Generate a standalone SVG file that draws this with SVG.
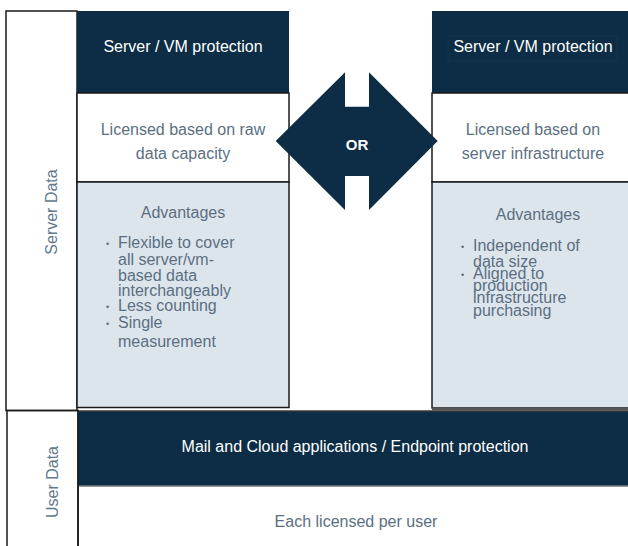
<svg xmlns="http://www.w3.org/2000/svg" width="628" height="546" viewBox="0 0 628 546">
<style>
text{font-family:"Liberation Sans",Arial,sans-serif;font-size:16px}
.hd{fill:#0c2d45}
.wt{fill:#ffffff}
.lb{fill:#dde5ec}
.ln{fill:none;stroke:#1a1a1a;stroke-width:1.5}
.tw{fill:#ffffff;text-anchor:middle}
.ts{fill:#5b6f82;text-anchor:middle}
.tb{fill:#5b6f82}
.bu{fill:#5b6f82;font-size:9px}
.side{fill:#62798e;text-anchor:middle}
</style>
<rect width="628" height="546" fill="#ffffff"/>

<g id="server-data">
<rect x="6" y="11" width="71" height="399.5" class="ln" fill="#ffffff"/>
<text class="side" transform="translate(57,212) rotate(-90)">Server Data</text>
</g>

<g id="user-data">
<rect x="7" y="410.5" width="71" height="140" class="ln" fill="#ffffff"/>
<text class="side" transform="translate(58,482) rotate(-90)">User Data</text>
</g>

<g id="left-column">
<rect x="77" y="11" width="212" height="82" class="hd"/>
<text class="tw" x="183" y="52">Server / VM protection</text>
<rect x="77" y="93" width="212" height="89" class="wt"/>
<rect x="77" y="93" width="212" height="89" class="ln"/>
<text class="ts" x="183" y="135">Licensed based on raw</text>
<text class="ts" x="183" y="159">data capacity</text>
<rect x="77" y="182" width="212" height="225.5" class="lb"/>
<rect x="77" y="182" width="212" height="225.5" class="ln"/>
<text class="ts" x="183" y="218">Advantages</text>
<text class="bu" x="106" y="247">•</text>
<text class="tb" x="118" y="248">Flexible to cover</text>
<text class="tb" x="118" y="265">all server/vm-</text>
<text class="tb" x="118" y="281">based data</text>
<text class="tb" x="118" y="296">interchangeably</text>
<text class="bu" x="106" y="310">•</text>
<text class="tb" x="118" y="311">Less counting</text>
<text class="bu" x="106" y="327">•</text>
<text class="tb" x="118" y="328">Single</text>
<text class="tb" x="118" y="347">measurement</text>
</g>

<g id="right-column">
<rect x="432" y="11" width="200" height="82" class="hd"/>
<rect x="448" y="36" width="169" height="25" fill="none" stroke="#17384f" stroke-width="0.8"/>
<text class="tw" x="533" y="52">Server / VM protection</text>
<rect x="432" y="93" width="200" height="89" class="wt"/>
<rect x="432" y="93" width="200" height="89" class="ln"/>
<text class="ts" x="533" y="135">Licensed based on</text>
<text class="ts" x="533" y="159">server infrastructure</text>
<rect x="432" y="182" width="200" height="226" class="lb"/>
<rect x="432" y="182" width="200" height="226" class="ln"/>
<line x1="432" y1="409" x2="628" y2="409" stroke="#555555" stroke-width="2.5"/>
<text class="ts" x="538" y="220">Advantages</text>
<text class="bu" x="461" y="250">•</text>
<text class="tb" x="473" y="251">Independent of</text>
<text class="tb" x="473" y="267">data size</text>
<text class="bu" x="461" y="278">•</text>
<text class="tb" x="473" y="279">Aligned to</text>
<text class="tb" x="473" y="291">production</text>
<text class="tb" x="473" y="303">infrastructure</text>
<text class="tb" x="473" y="316">purchasing</text>
</g>

<g id="or-arrow">
<polygon points="275.7,141 345,72.3 345,106.7 369,106.7 369,72.3 437.7,141 369,210 369,176 345,176 345,210" fill="#0c2d45"/>
<text x="357" y="150" fill="#ffffff" text-anchor="middle" font-weight="bold" style="font-size:15px">OR</text>
</g>

<g id="user-bar">
<rect x="78" y="411" width="560" height="75" class="hd"/>
<line x1="78" y1="411" x2="628" y2="411" stroke="#3a3a3a" stroke-width="1.5"/>
<line x1="78" y1="486" x2="628" y2="486" stroke="#777777" stroke-width="1.5"/>
<line x1="78" y1="410.5" x2="78" y2="546" stroke="#1a1a1a" stroke-width="1.5"/>
<text class="tw" x="355" y="452">Mail and Cloud applications / Endpoint protection</text>
<text class="ts" x="356" y="527">Each licensed per user</text>
</g>

<g id="connectors"></g>
</svg>
